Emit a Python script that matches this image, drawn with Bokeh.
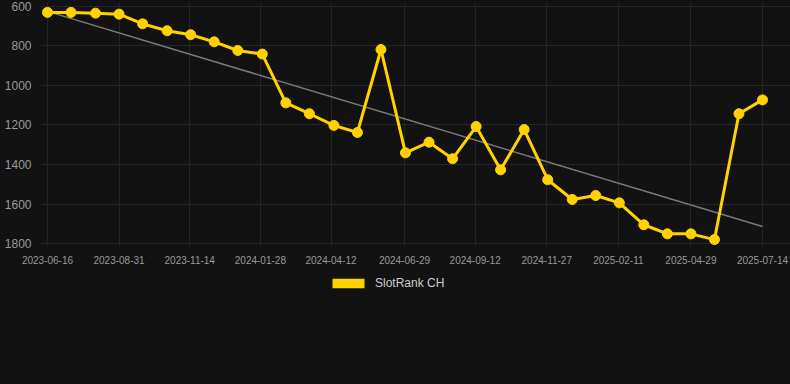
import pandas as pd
from bokeh.plotting import figure
from bokeh.layouts import column
from bokeh.models import (Range1d, FixedTicker, DatetimeTickFormatter, Legend,
                          LegendItem)
from bokeh.embed import file_html
from bokeh.resources import INLINE

# ---- data ----
dates = ["2023-06-16", "2023-07-11", "2023-08-06", "2023-08-31", "2023-09-25",
         "2023-10-21", "2023-11-15", "2023-12-10", "2024-01-04", "2024-01-30",
         "2024-02-24", "2024-03-20", "2024-04-15", "2024-05-10", "2024-06-04",
         "2024-06-30", "2024-07-25", "2024-08-19", "2024-09-13", "2024-10-09",
         "2024-11-03", "2024-11-28", "2024-12-24", "2025-01-18", "2025-02-12",
         "2025-03-10", "2025-04-04", "2025-04-29", "2025-05-24", "2025-06-19",
         "2025-07-14"]
ranks = [630, 630, 634, 639, 688, 723, 743, 779, 823, 841,
         1088, 1143, 1202, 1238, 818, 1341, 1287, 1371, 1208, 1427,
         1223, 1477, 1577, 1557, 1594, 1705, 1751, 1751, 1780, 1143,
         1073]
trend_dates = ["2023-06-16", "2025-07-14"]
trend_ranks = [625, 1714]
x_tick_labels = ["2023-06-16", "2023-08-31", "2023-11-14", "2024-01-28",
                 "2024-04-12", "2024-06-29", "2024-09-12", "2024-11-27",
                 "2025-02-11", "2025-04-29", "2025-07-14"]
y_ticks = [600, 800, 1000, 1200, 1400, 1600, 1800]
series_name = "SlotRank CH"

BG = "#121212"
YELLOW = "#FFD200"
FONT = "Liberation Sans"

x = pd.to_datetime(dates)
tx = pd.to_datetime(trend_dates)
xt = pd.to_datetime(x_tick_labels)
tick_ms = [int(t.value // 10**6) for t in xt]

x_start = x[0] - pd.Timedelta(days=7.4)
x_end = x[-1] + pd.Timedelta(days=29.7)

p = figure(output_backend="svg", toolbar_location=None,
           x_axis_type="datetime",
           x_range=Range1d(x_start, x_end),
           y_range=Range1d(1815, 580),
           frame_width=750, frame_height=244,
           min_border_left=40, min_border_right=0, min_border_top=2,
           min_border_bottom=22)
p.background_fill_color = BG
p.border_fill_color = BG
p.outline_line_color = None

# grid
p.xgrid.ticker = FixedTicker(ticks=tick_ms)
p.ygrid.ticker = FixedTicker(ticks=y_ticks)
p.xgrid.grid_line_color = "#242424"
p.ygrid.grid_line_color = "#262626"

# axes
p.xaxis.ticker = FixedTicker(ticks=tick_ms)
p.xaxis.formatter = DatetimeTickFormatter(
    days="%Y-%m-%d", months="%Y-%m-%d", years="%Y-%m-%d",
    hours="%Y-%m-%d", minutes="%Y-%m-%d", seconds="%Y-%m-%d",
    milliseconds="%Y-%m-%d", minsec="%Y-%m-%d", hourmin="%Y-%m-%d")
p.yaxis.ticker = FixedTicker(ticks=y_ticks)
for ax in (p.xaxis[0], p.yaxis[0]):
    ax.axis_line_color = None
    ax.major_tick_line_color = None
    ax.minor_tick_line_color = None
    ax.major_label_text_color = "#999999"
    ax.major_label_text_font = FONT
p.xaxis.major_label_text_font_size = "10px"
p.yaxis.major_label_text_font_size = "12px"
p.xaxis.major_label_standoff = 3
p.yaxis.major_label_standoff = 3

# trend line
p.line(tx, trend_ranks, line_color="#7a7a7a", line_width=1.5)

# series
p.line(x, ranks, line_color=YELLOW, line_width=3)
p.scatter(x, ranks, size=10, fill_color=YELLOW, line_color=YELLOW)

# ---- legend strip below the chart ----
lg = figure(width=790, height=40, output_backend="svg", toolbar_location=None,
            x_range=Range1d(0, 1), y_range=Range1d(0, 1),
            x_axis_location=None, y_axis_location=None, min_border=0)
lg.background_fill_color = BG
lg.border_fill_color = BG
lg.outline_line_color = None
lg.grid.visible = False
# zero-size proxy glyph so the legend shows a filled swatch
sw = lg.quad(left=[0], right=[0], top=[0], bottom=[0],
             fill_color=YELLOW, line_color=YELLOW, line_width=0)
legend = Legend(items=[LegendItem(label=series_name, renderers=[sw])],
                orientation="horizontal", location=(284, 14),
                glyph_width=40, glyph_height=12, label_height=12,
                label_standoff=7,
                label_text_font=FONT, label_text_font_size="12px",
                label_text_color="#cccccc", background_fill_alpha=0,
                border_line_alpha=0, margin=0, padding=4)
lg.add_layout(legend, "center")

layout = column(p, lg, spacing=0)

html = file_html(layout, INLINE)
html = html.replace("<body>", '<body style="background-color:#121212;">')
open("out.html", "w").write(html)
